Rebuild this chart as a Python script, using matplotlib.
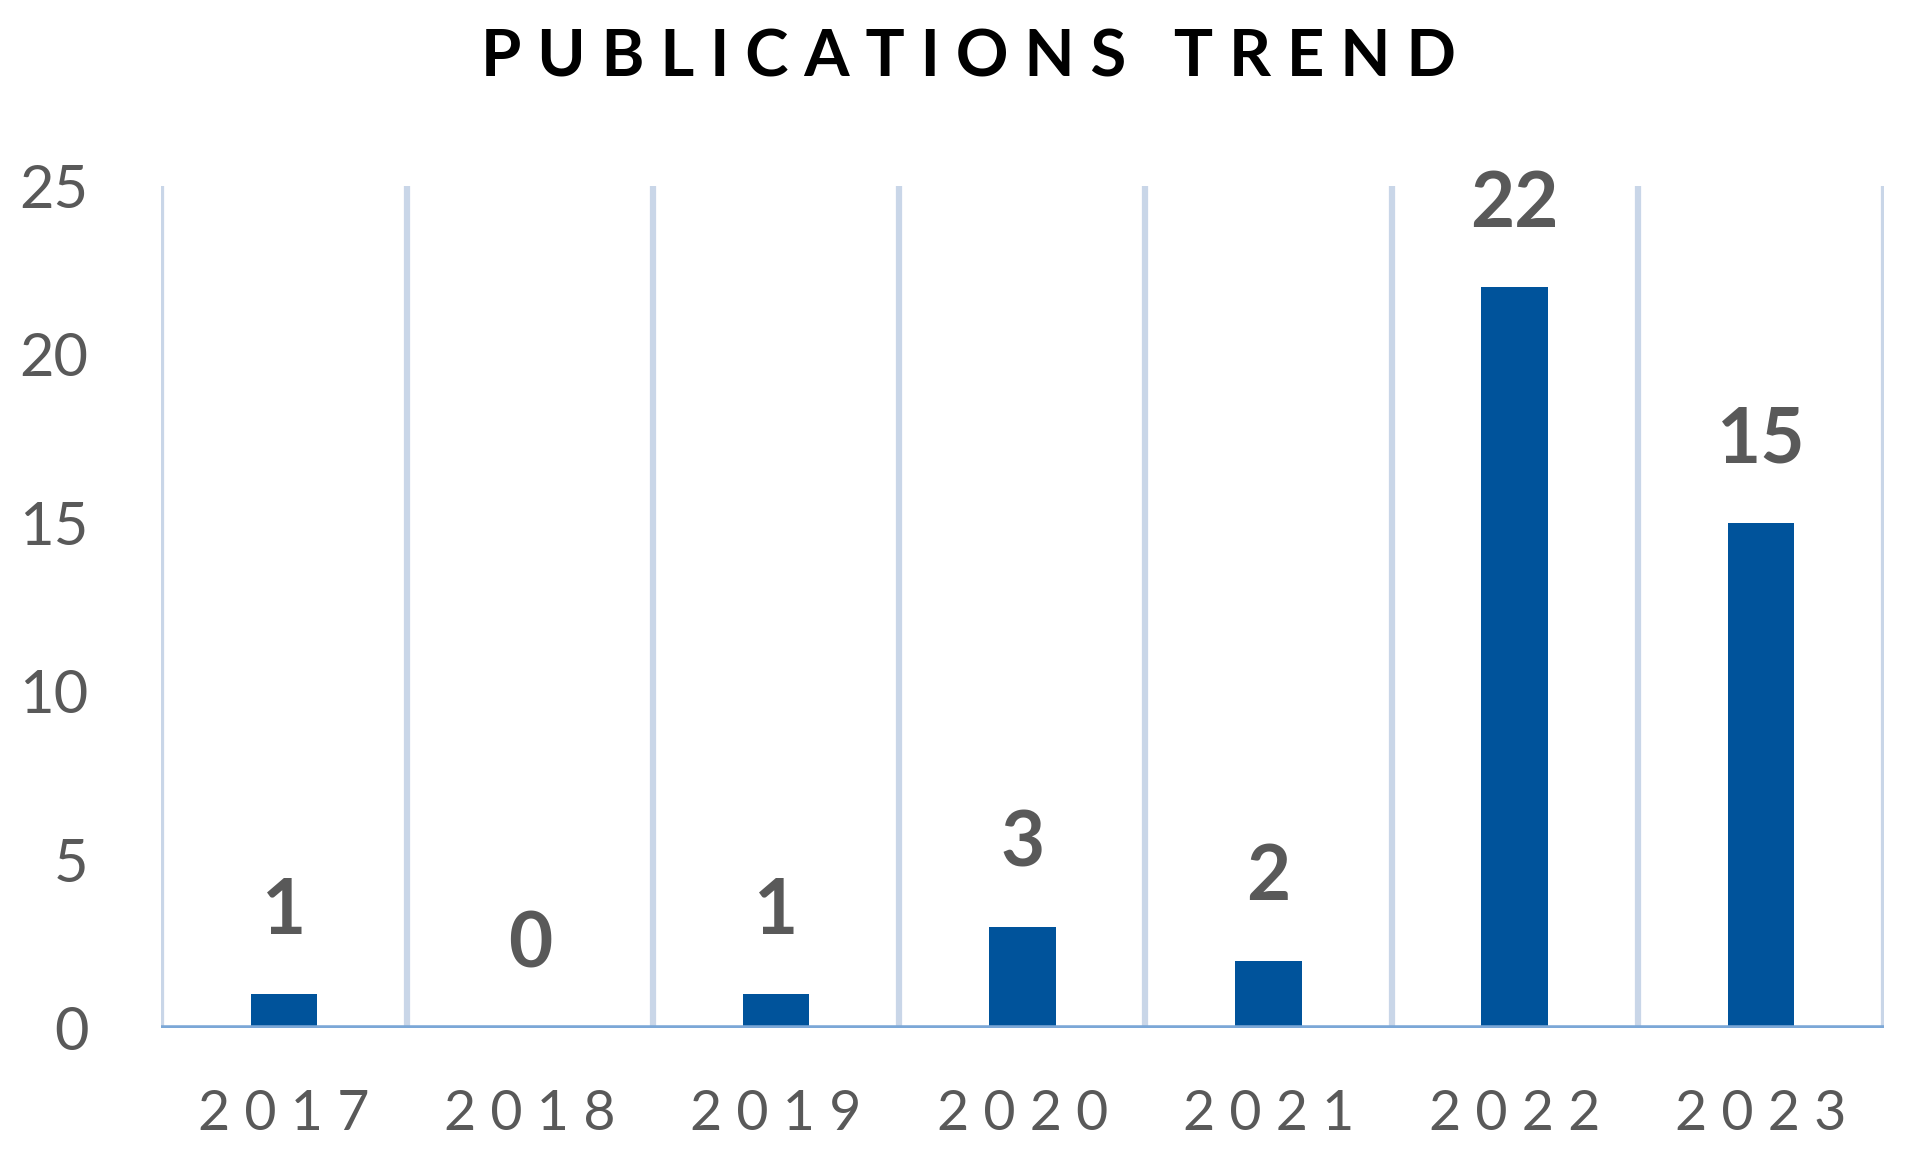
import numpy as np
import matplotlib.pyplot as plt

# Datos
years = ["2017", "2018", "2019", "2020", "2021", "2022", "2023"]
counts = [1, 0, 1, 3, 2, 22, 15]
y_ticks = [0, 5, 10, 15, 20, 25]

bar_color = "#00539B"
grid_color = "#C9D6E8"
text_grey = "#595959"

plt.rcParams["font.family"] = ["Lato", "DejaVu Sans"]

fig = plt.figure(figsize=(19.07, 11.6), dpi=100)
ax = fig.add_axes([0.0843, 0.1138, 0.9036, 0.7259])

x = np.arange(len(years))
ax.bar(x, counts, width=0.27, color=bar_color, zorder=3)

# etiquetas de valor
for xi, v in zip(x, counts):
    ax.annotate(str(v), (xi, v), xytext=(0, 34), textcoords="offset points",
                ha="center", va="bottom", fontsize=55, fontweight="bold",
                color=text_grey)

ax.set_xlim(-0.5, len(years) - 0.5)
ax.set_ylim(0, 25)

# separadores verticales entre categorías
ax.set_xticks(x)
ax.set_xticklabels([" ".join(y) for y in years])
ax.set_xticks(np.arange(-0.5, len(years), 1.0), minor=True)
ax.grid(True, which="minor", axis="x", color=grid_color, linewidth=4.5, zorder=0)
ax.set_yticks(y_ticks)

ax.axhline(0, color="#7BA7D7", linewidth=4, zorder=4)

for s in ax.spines.values():
    s.set_visible(False)

ax.tick_params(axis="both", which="both", length=0)
ax.tick_params(axis="y", labelsize=43, labelcolor=text_grey, pad=52)
ax.tick_params(axis="x", labelsize=40, labelcolor=text_grey, pad=44)

fig.text(0.508, 0.950, " ".join("PUBLICATIONS") + "   " + " ".join("TREND"),
         ha="center", va="center", fontsize=47, fontweight="bold", color="black")

fig.savefig("out.png", dpi=100)
